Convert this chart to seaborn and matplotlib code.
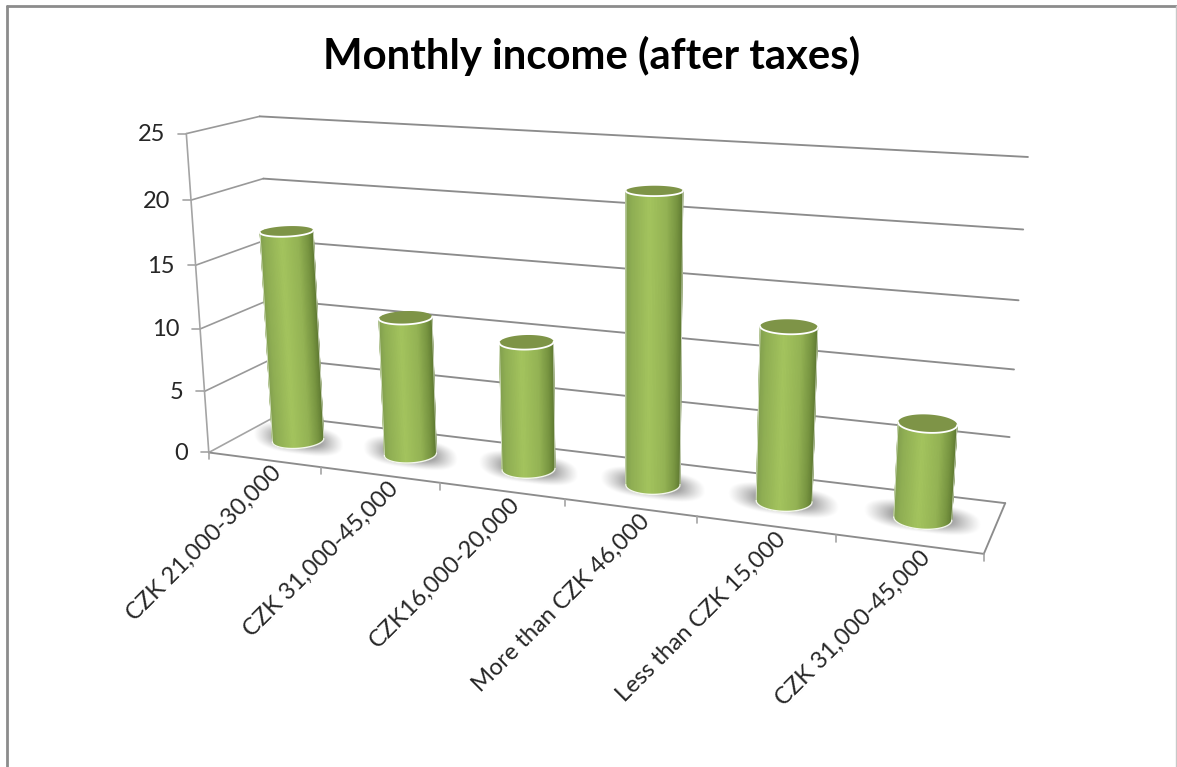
import numpy as np
import matplotlib
matplotlib.use("Agg")
import matplotlib.pyplot as plt
from matplotlib.collections import PolyCollection
from matplotlib.colors import LinearSegmentedColormap
from matplotlib.transforms import Transform
import seaborn as sns

# Survey answers
categories = ["CZK 21,000-30,000", "CZK 31,000-45,000", "CZK16,000-20,000",
              "More than CZK 46,000", "Less than CZK 15,000", "CZK 31,000-45,000"]
counts = [17, 11, 10, 22, 13, 7]
value_ticks = [0, 5, 10, 15, 20, 25]
title = "Monthly income (after taxes)"

sns.set_theme(style="white")
plt.rcParams["font.family"] = ["Lato", "DejaVu Sans"]

W, H = 1177, 767
fig = plt.figure(figsize=(W / 100, H / 100), dpi=100, facecolor="white")
ax = fig.add_axes([0, 0, 1, 1])

# Camera of the box: (category, value, depth) -> canvas position
n_cat = len(categories)
v_max = value_ticks[-1]
box_world = [(0, 0, 0), (n_cat, 0, 0), (n_cat, 0, 1), (0, 0, 1),
             (0, v_max, 1), (n_cat, v_max, 1), (0, v_max, 0)]
box_canvas = [(208, 452), (984, 554), (1005, 503), (278, 416),
              (259, 116), (1028, 157), (187, 134)]
A, b = [], []
for (cx, cy, cz), (px, py) in zip(box_world, box_canvas):
    A.append([cx, cy, cz, 1, 0, 0, 0, 0, -px * cx, -px * cy, -px * cz])
    A.append([0, 0, 0, 0, cx, cy, cz, 1, -py * cx, -py * cy, -py * cz])
    b += [px, py]
sol = np.linalg.lstsq(np.array(A, float), np.array(b, float), rcond=None)[0]
P = np.append(sol, 1.0).reshape(3, 4)


def project(c, v, d):
    c, v, d = np.broadcast_arrays(np.asarray(c, float), np.asarray(v, float), np.asarray(d, float))
    pts = np.stack([c, v, d, np.ones_like(c)], axis=-1) @ P.T
    return pts[..., 0] / pts[..., 2], pts[..., 1] / pts[..., 2]


class MidDepthPlane(Transform):
    """Places a category/value pair on the plane halfway into the box."""
    input_dims = 2
    output_dims = 2
    is_separable = False

    def transform_non_affine(self, values):
        values = np.asarray(values, float)
        x, y = project(values[:, 0] + 0.5, values[:, 1], 0.5)
        return np.column_stack([x, y])


R_CAT, R_DEPTH = 0.2, 0.205
LINE = "#8c8c8c"
AXIS = "#a4a4a4"
TEXT = "#262626"

# Cylinder bodies as seaborn bars on the mid-depth plane
sns.barplot(x=list(range(n_cat)), y=counts, color="#92b254", saturation=1,
            width=2 * R_CAT, errorbar=None, ax=ax, linewidth=0,
            transform=MidDepthPlane() + ax.transData, zorder=3)
ax.set_xlim(0, W)
ax.set_ylim(H, 0)
ax.set_axis_off()


def seg(p, q, color=LINE, lw=1.35, z=1):
    ax.plot([p[0], q[0]], [p[1], q[1]], color=color, lw=lw, zorder=z, solid_capstyle="round")


# Chart frame
seg((7, 6), (W, 6), "#8c8c8c", 2.0)
seg((7, 6), (7, H), "#8c8c8c", 2.0)
seg((W - 1, 6), (W - 1, H), "#c8c8c8", 1.0)

# Gridlines on the two walls, value axis and its ticks
for v in value_ticks:
    front = project(0, v, 0)
    corner = project(0, v, 1)
    right = project(n_cat, v, 1)
    seg(front, corner, AXIS if v == 0 else "#999999", 1.2)
    seg(corner, right)
    seg((front[0] - 8, front[1]), front, AXIS, 1.2)
    ax.text(front[0] - 21, front[1] + 1, str(v), ha="right", va="center",
            fontsize=17, color=TEXT)
seg(project(0, 0, 0), project(0, v_max, 0), AXIS, 1.2)

# Floor outline, category ticks and rotated labels
seg(project(0, 0, 0), project(n_cat, 0, 0))
seg(project(n_cat, 0, 0), project(n_cat, 0, 1))
for i in range(n_cat + 1):
    x, y = project(i, 0, 0)
    seg((x, y), (x, y + 7), AXIS, 1.2)
for i, label in enumerate(categories):
    x, y = project(i + 0.62, 0, 0)
    ax.text(x - 7, y + 1, label, rotation=45, rotation_mode="anchor",
            ha="right", va="top", fontsize=17, color=TEXT)

# Soft floor shadows, one per cylinder
shadow_rgb = (0.52, 0.52, 0.52)
for i in range(n_cat):
    cx, cy = project(i + 0.5, 0, 0.5)
    left, _ = project(i + 0.5 - R_CAT, 0, 0.5)
    half_w = (cx - left) * 2.0
    half_h = 15.0
    xs = np.arange(cx - half_w * 1.3, cx + half_w * 1.3)
    ys = np.arange(cy - half_h * 1.6, cy + half_h * 1.8)
    gx, gy = np.meshgrid(xs, ys)
    dy = gy - cy + 1 - 0.13 * (gx - cx)
    r = (np.abs((gx - cx) / half_w) ** 3 + np.abs(dy / half_h) ** 2.4) ** (1 / 2.6)
    alpha = np.clip((1.05 - r) / 0.55, 0, 1) ** 1.2 * 0.72
    img = np.dstack([np.full(gx.shape, shadow_rgb[k]) for k in range(3)] + [alpha])
    ax.imshow(img, extent=(xs[0], xs[-1], ys[-1], ys[0]), aspect="auto",
              interpolation="bilinear", zorder=2)
ax.set_xlim(0, W)
ax.set_ylim(H, 0)

# Rounded shading, rims and caps on each bar
shade = LinearSegmentedColormap.from_list(
    "cyl", [(0.0, "#829f4e"), (0.12, "#90af54"), (0.42, "#a4c45e"),
            (0.72, "#94b354"), (0.9, "#789541"), (1.0, "#617c33")])
sweep = np.linspace(-np.pi / 2, 3 * np.pi / 2, 721)
full = np.linspace(0, 2 * np.pi, 121)
fractions = np.linspace(0, 1, 61)


def ring(center, level, theta):
    return project(center + R_CAT * np.cos(theta), level, 0.5 - R_DEPTH * np.sin(theta))


def visible_arc(center, level):
    # front part of a circle between its leftmost and rightmost canvas points
    x, _ = ring(center, level, sweep)
    return sweep[np.argmin(x)] + (sweep[np.argmax(x)] - sweep[np.argmin(x)]) * fractions


for i, v in enumerate(counts):
    cc = i + 0.5
    z = 4 + i
    arc_low = visible_arc(cc, 0)
    arc_high = visible_arc(cc, v)
    lx, ly = ring(cc, 0, arc_low)
    hx, hy = ring(cc, v, arc_high)
    quads = [np.array([[lx[k], ly[k]], [lx[k + 1], ly[k + 1]], [hx[k + 1], hy[k + 1]], [hx[k], hy[k]]])
             for k in range(len(fractions) - 1)]
    tones = ((lx[:-1] + lx[1:]) / 2 - lx.min()) / (lx.max() - lx.min())
    # bottom cap keeps the base round below the strips
    bx, by = ring(cc, 0, full)
    ax.fill(bx, by, color="#92b254", lw=0, zorder=z)
    ax.add_collection(PolyCollection(quads, array=tones, cmap=shade, clim=(0, 1),
                                     edgecolors="face", linewidths=0.5, zorder=z))
    # thin outline along the silhouette and the base
    ax.plot(lx, ly, color="white", lw=1.0, alpha=0.9, zorder=z + 0.2)
    ax.plot([lx[0], hx[0]], [ly[0], hy[0]], color="white", lw=0.7, alpha=0.7, zorder=z + 0.2)
    ax.plot([lx[-1], hx[-1]], [ly[-1], hy[-1]], color="white", lw=0.7, alpha=0.7, zorder=z + 0.2)
    # top cap with a bright front rim
    tx, ty = ring(cc, v, full)
    ax.fill(tx, ty, color="#7e9447", lw=0, zorder=z + 0.3)
    ax.plot(hx, hy, color="white", lw=1.3, zorder=z + 0.4, solid_capstyle="round")

ax.text(592, 56, title, ha="center", va="center", fontsize=30.2, fontweight="bold", color="black")

fig.savefig("out.png", dpi=100, facecolor="white")
